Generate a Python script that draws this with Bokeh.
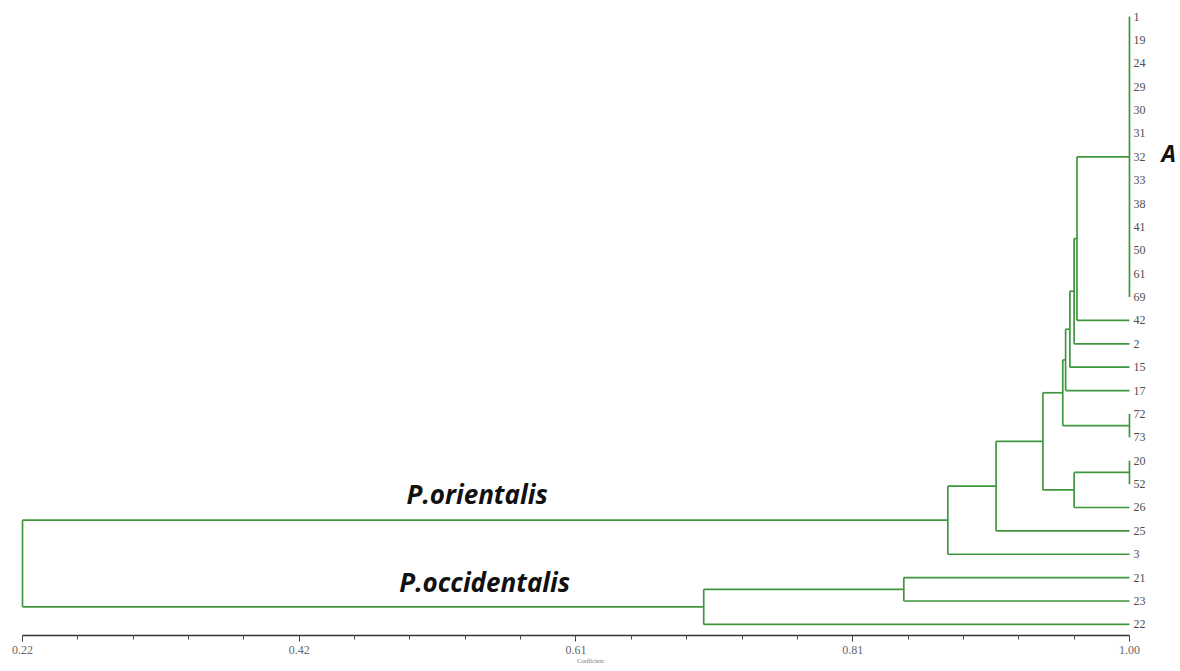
from bokeh.plotting import figure
from bokeh.models import Range1d, FixedTicker, Label, ColumnDataSource
from bokeh.core.properties import value
from bokeh.embed import file_html
from bokeh.resources import INLINE

# ---------------- data ----------------
leaves = ["1", "19", "24", "29", "30", "31", "32", "33", "38", "41", "50", "61", "69",
          "42", "2", "15", "17", "72", "73", "20", "52", "26", "25", "3", "21", "23", "22"]

node_names = ["A", "n72_73", "n20_52", "n21_23", "N1", "N2", "N3", "N4", "N5",
              "B", "N6", "N7", "N8", "OCC", "ROOT"]
node_children = [
    ["1", "19", "24", "29", "30", "31", "32", "33", "38", "41", "50", "61", "69"],
    ["72", "73"],
    ["20", "52"],
    ["21", "23"],
    ["A", "42"],
    ["N1", "2"],
    ["N2", "15"],
    ["N3", "17"],
    ["N4", "n72_73"],
    ["n20_52", "26"],
    ["N5", "B"],
    ["N6", "25"],
    ["N7", "3"],
    ["n21_23", "22"],
    ["N8", "OCC"],
]
node_coef = [1.00, 1.00, 1.00, 0.841, 0.963, 0.961, 0.958, 0.955, 0.953,
             0.961, 0.939, 0.906, 0.872, 0.700, 0.22]

tick_values = [0.22, 0.415, 0.61, 0.805, 1.00]
tick_labels = ["0.22", "0.42", "0.61", "0.81", "1.00"]

# ---------------- layout of the tree ----------------
pos = {name: (1.0, i) for i, name in enumerate(leaves)}
x0s, y0s, x1s, y1s = [], [], [], []
for name, kids, h in zip(node_names, node_children, node_coef):
    ys = [pos[k][1] for k in kids]
    lo, hi = min(ys), max(ys)
    x0s.append(h); y0s.append(lo); x1s.append(h); y1s.append(hi)
    for k in kids:
        cx, cy = pos[k]
        if abs(cx - h) > 1e-9:
            x0s.append(h); y0s.append(cy); x1s.append(cx); y1s.append(cy)
    pos[name] = (h, (lo + hi) / 2.0)

seg = ColumnDataSource(dict(x0=x0s, y0=y0s, x1=x1s, y1=y1s))

W, H = 1180, 671
PX_PER_UNIT = 1419.2
x_start = 0.22 - 22 / PX_PER_UNIT
x_end = 0.22 + (W - 22) / PX_PER_UNIT
ROW = 23.38
y_top = -16 / ROW
y_bot = (635 - 16) / ROW

p = figure(width=W, height=H, output_backend="svg", toolbar_location=None,
           x_range=Range1d(x_start, x_end), y_range=Range1d(y_bot, y_top),
           y_axis_location=None, min_border_left=0, min_border_right=0,
           min_border_top=0, min_border_bottom=H - 635)
p.outline_line_color = None
p.xgrid.visible = False
p.ygrid.visible = False
p.background_fill_color = "white"

p.segment("x0", "y0", "x1", "y1", source=seg, line_color="#3f963f", line_width=1.7)

lab = ColumnDataSource(dict(x=[1.0] * len(leaves), y=list(range(len(leaves))), t=leaves))
p.text("x", "y", text="t", source=lab, x_offset=4, text_baseline="middle",
       text_align="left", text_font=value("Liberation Serif"),
       text_font_size="12px", text_color="#4d4d4d")

# axis
ax = p.xaxis[0]
minor = [round(0.22 + 0.039 * k, 4) for k in range(21)]
ax.ticker = FixedTicker(ticks=tick_values, minor_ticks=minor)
ax.major_label_overrides = {v: t for v, t in zip(tick_values, tick_labels)}
ax.bounds = (0.22, 1.0)
ax.axis_line_color = "#333333"
ax.axis_line_width = 1.7
ax.major_tick_line_color = "#333333"
ax.minor_tick_line_color = "#444444"
ax.major_tick_out = 6
ax.major_tick_in = 0
ax.minor_tick_out = 4
ax.minor_tick_in = 0
ax.major_label_standoff = 4
ax.major_label_text_font = "Liberation Serif"
ax.major_label_text_font_size = "12px"
ax.major_label_text_color = "#666666"
ax.axis_label = "Coefficient"
ax.axis_label_standoff = 1
ax.axis_label_text_font = "Liberation Serif"
ax.axis_label_text_font_size = "6px"
ax.axis_label_text_font_style = "normal"
ax.axis_label_text_color = "#777777"

# annotations
p.add_layout(Label(x=0.4906, y=20.44, text="P.orientalis", text_baseline="middle",
                   text_font="Open Sans", text_font_style="bold italic",
                   text_font_size="26px", text_color="#111111"))
p.add_layout(Label(x=0.4855, y=24.2, text="P.occidentalis", text_baseline="middle",
                   text_font="Open Sans", text_font_style="bold italic",
                   text_font_size="26px", text_color="#111111"))
p.add_layout(Label(x=1.0225, y=5.85, text="A", text_baseline="middle",
                   text_font="Open Sans", text_font_style="bold italic",
                   text_font_size="23px", text_color="#111111"))

open("out.html", "w").write(file_html(p, INLINE))
